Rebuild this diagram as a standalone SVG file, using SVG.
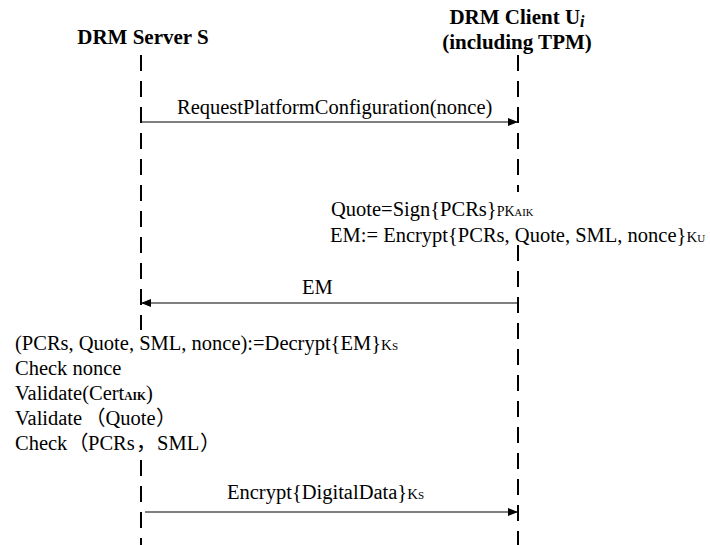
<svg xmlns="http://www.w3.org/2000/svg" width="710" height="545" viewBox="0 0 710 545">
<defs>
<style>
text{font-family:"Liberation Serif",serif;fill:#000}
.cj{font-family:"Noto Sans CJK SC","Liberation Serif",sans-serif}
.h{font-weight:bold;font-size:21px}
.t{font-size:20.5px}
.sc{font-size:15px;font-variant:small-caps}
.life{stroke:#000;stroke-width:2;stroke-dasharray:16 10;fill:none}
.msg{stroke:#000;stroke-width:1.2;fill:none}
</style>
<marker id="ah" markerWidth="10" markerHeight="8" refX="10" refY="4" orient="auto" markerUnits="userSpaceOnUse">
<path d="M0,0 L10,4 L0,8 Z" fill="#000"/>
</marker>
</defs>
<rect width="710" height="545" fill="#fff"/>
<g id="server">
<text class="h" x="143" y="44" text-anchor="middle">DRM Server S</text>
<path class="life" d="M141,55 V330 M141,460 V545"/>
</g>
<g id="client">
<text class="h" x="517" y="24" text-anchor="middle">DRM Client U<tspan font-style="italic" font-size="16" dy="3">i</tspan></text>
<text class="h" x="517" y="49" text-anchor="middle">(including TPM)</text>
<path class="life" d="M518,55 V192 M518,245 V545"/>
</g>
<g id="connectors">
<line class="msg" x1="141" y1="122" x2="518" y2="122" marker-end="url(#ah)"/>
<line class="msg" x1="518" y1="303" x2="141" y2="303" marker-end="url(#ah)"/>
<line class="msg" x1="145" y1="512" x2="518" y2="512" marker-end="url(#ah)"/>
</g>
<g id="labels">
<text class="t" x="177" y="114">RequestPlatformConfiguration(nonce)</text>
<text class="t" x="331" y="216">Quote=Sign{PCRs}<tspan font-size="14">PK</tspan><tspan font-size="10.5">AIK</tspan></text>
<text class="t" x="330" y="242">EM:= Encrypt{PCRs, Quote, SML, nonce}<tspan class="sc">Ku</tspan></text>
<text class="t" x="302" y="294">EM</text>
<text class="t" x="15" y="350">(PCRs, Quote, SML, nonce):=Decrypt{EM}<tspan class="sc">Ks</tspan></text>
<text class="t" x="15" y="375">Check nonce</text>
<text class="t" x="15" y="400">Validate(Cert<tspan font-size="11.5" font-weight="bold">AIK</tspan>)</text>
<text class="t" x="15" y="425">Validate<tspan class="cj" x="85">（</tspan><tspan x="105.5">Quote</tspan><tspan class="cj" x="156">）</tspan></text>
<text class="t" x="15" y="450">Check<tspan class="cj" x="68">（</tspan><tspan x="88">PCRs</tspan><tspan class="cj" x="136">，</tspan><tspan x="157">SML</tspan><tspan class="cj" x="200">）</tspan></text>
<text class="t" x="227" y="499">Encrypt{DigitalData}<tspan class="sc">Ks</tspan></text>
</g>
</svg>
